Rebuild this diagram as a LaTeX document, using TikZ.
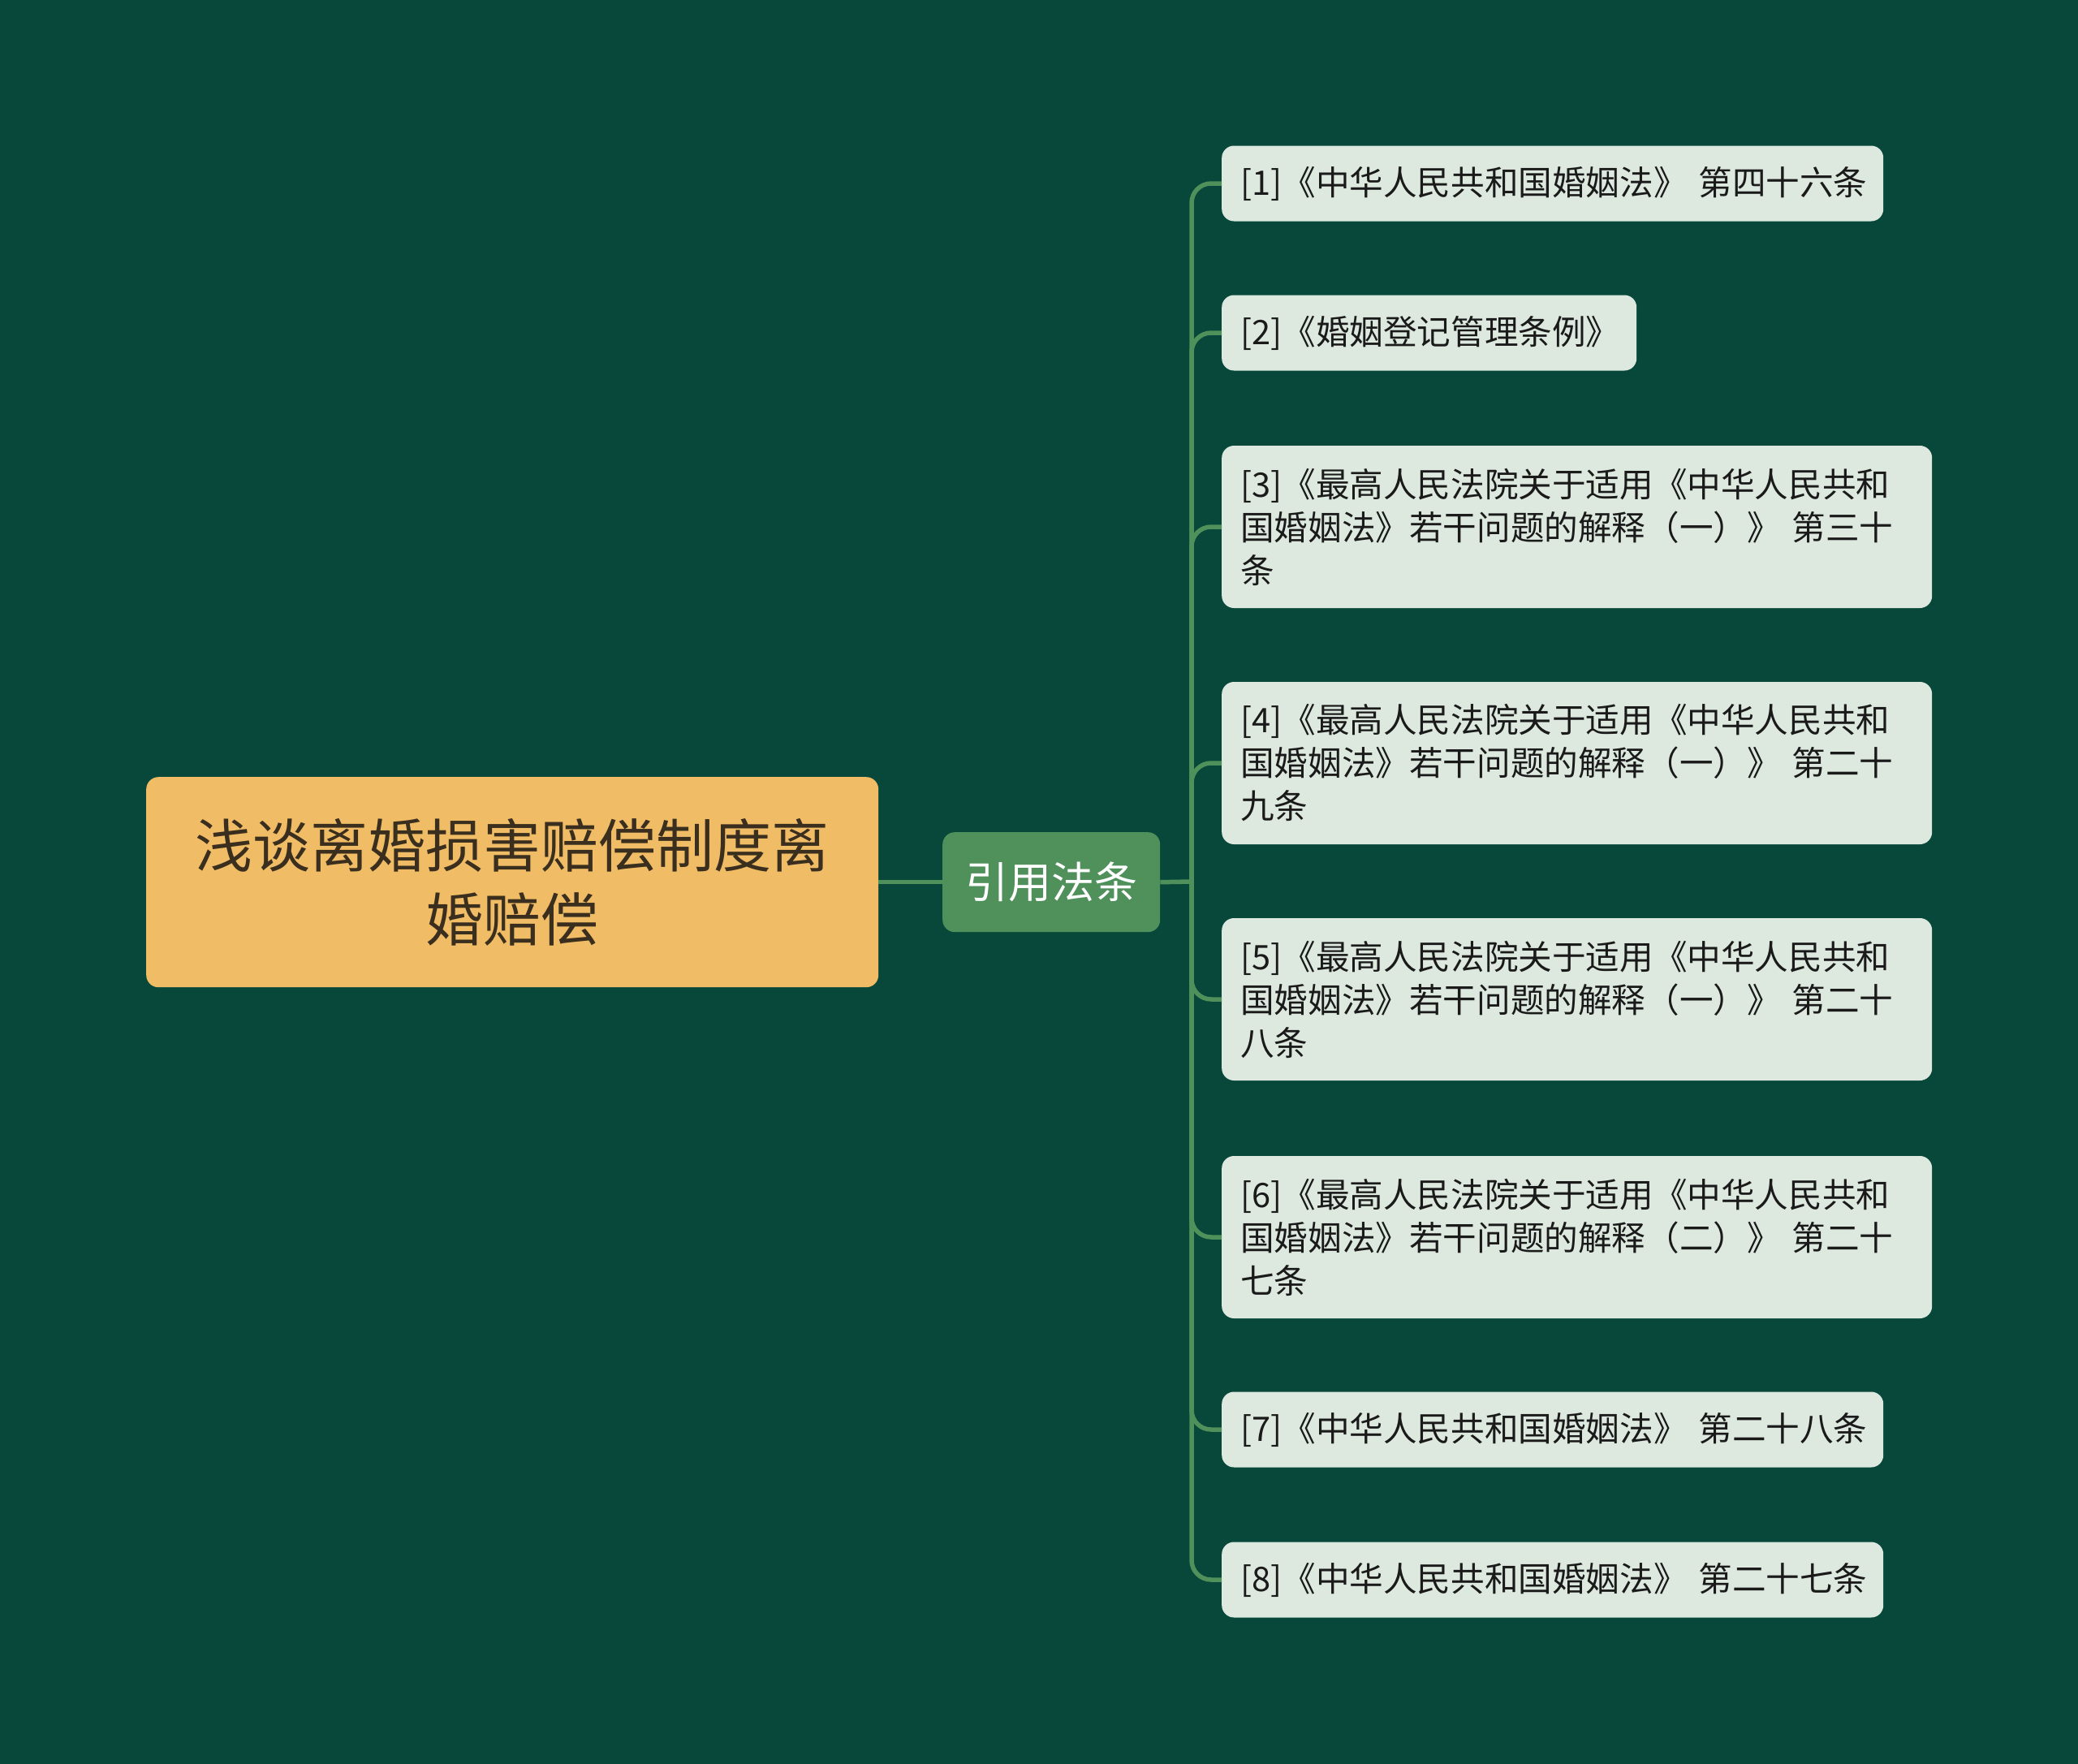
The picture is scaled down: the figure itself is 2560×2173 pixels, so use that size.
\documentclass[tikz,border=0pt]{standalone}
\usepackage{fontspec}
\newfontfamily\cjk{Noto Sans CJK SC}
\definecolor{bg}{HTML}{08483A}
\definecolor{rootfill}{HTML}{F0BC65}
\definecolor{roottext}{HTML}{3A2E1E}
\definecolor{midfill}{HTML}{4F905B}
\definecolor{leaffill}{HTML}{DDE9DF}
\definecolor{leaftext}{HTML}{1A1A1A}
\definecolor{linkcol}{HTML}{4F905B}
\begin{document}
\begin{tikzpicture}[x=1pt,y=-1pt,
  rootbox/.style={draw=none,fill=rootfill,rounded corners=15,text=roottext,
    font=\cjk\fontsize{71}{91}\selectfont,align=center,anchor=north west,
    minimum width=902,minimum height=259,inner sep=0},
  midbox/.style={draw=none,fill=midfill,rounded corners=15,text=white,
    font=\cjk\fontsize{53}{60}\selectfont,anchor=north west,
    minimum width=268,minimum height=123,inner sep=0},
  leafbox/.style={draw=none,fill=leaffill,rounded corners=15,text=leaftext,
    font=\cjk\fontsize{41.6}{53}\selectfont,align=left,anchor=west,
    inner xsep=23,inner ysep=0},
  link/.style={draw=linkcol,line width=5.5,rounded corners=24}
]
\fill[bg] (0,0) rectangle (2560,2173);
\useasboundingbox (0,0) rectangle (2560,2173);

\node[rootbox] (root) at (180,957) {浅谈离婚损害赔偿制度离\\婚赔偿};
\node[midbox] (mid) at (1161,1025) {引用法条};

\node[leafbox,text width=769,minimum height=93] (c1) at (1505,226)
  {\mbox{[1]《中华人民共和国婚姻法》 第四十六条}};
\node[leafbox,text width=465,minimum height=93] (c2) at (1505,410)
  {\mbox{[2]《婚姻登记管理条例》}};
\node[leafbox,text width=829,minimum height=200] (c3) at (1505,649)
  {\mbox{[3]《最高人民法院关于适用《中华人民共和}\\\mbox{国婚姻法》若干问题的解释（一）》 第三十}\\\mbox{条}};
\node[leafbox,text width=829,minimum height=200] (c4) at (1505,940)
  {\mbox{[4]《最高人民法院关于适用《中华人民共和}\\\mbox{国婚姻法》若干问题的解释（一）》 第二十}\\\mbox{九条}};
\node[leafbox,text width=829,minimum height=200] (c5) at (1505,1231)
  {\mbox{[5]《最高人民法院关于适用《中华人民共和}\\\mbox{国婚姻法》若干问题的解释（一）》 第二十}\\\mbox{八条}};
\node[leafbox,text width=829,minimum height=200] (c6) at (1505,1524)
  {\mbox{[6]《最高人民法院关于适用《中华人民共和}\\\mbox{国婚姻法》若干问题的解释（二）》 第二十}\\\mbox{七条}};
\node[leafbox,text width=769,minimum height=93] (c7) at (1505,1761)
  {\mbox{[7]《中华人民共和国婚姻法》 第二十八条}};
\node[leafbox,text width=769,minimum height=93] (c8) at (1505,1946)
  {\mbox{[8]《中华人民共和国婚姻法》 第二十七条}};

\coordinate (j) at (1468,1086);
\draw[link] (root.east) -- (mid.west);
\draw[link] (mid.east) -- (j);
\foreach \c in {c1,c2,c3,c4,c5,c6,c7,c8}
  \draw[link] (j) |- (\c.west);
\end{tikzpicture}
\end{document}
